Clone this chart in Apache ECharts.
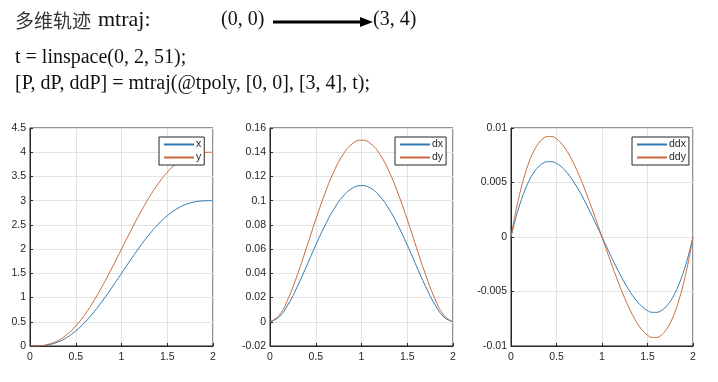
<!DOCTYPE html>
<html><head><meta charset="utf-8">
<script src="https://cdn.jsdelivr.net/npm/echarts@6/dist/echarts.min.js"></script>
<style>html,body{margin:0;padding:0;background:#fff}#c{width:718px;height:382px}</style>
</head><body><div id="c"></div>
<script>
// time samples (s)
var tVals = [0,0.1,0.2,0.3,0.4,0.5,0.6,0.7,0.8,0.9,1.0,1.1,1.2,1.3,1.4,1.5,1.6,1.7,1.8,1.9,2.0];
var tFine = [0,0.05,0.1,0.15,0.2,0.25,0.3,0.35,0.4,0.45,0.5,0.55,0.6,0.65,0.7,0.75,0.8,0.85,0.9,0.95,1.0,
             1.05,1.1,1.15,1.2,1.25,1.3,1.35,1.4,1.45,1.5,1.55,1.6,1.65,1.7,1.75,1.8,1.85,1.9,1.95,2.0];
// position
var xPos = [0,0.0035,0.0257,0.0798,0.1738,0.3105,0.4892,0.7055,0.9523,1.2206,1.5,1.7794,2.0477,2.2945,2.5108,2.6895,2.8262,2.9202,2.9743,2.9965,3];
var yPos = [0,0.0046,0.0342,0.1064,0.2317,0.4141,0.6523,0.9407,1.2698,1.6275,2,2.3725,2.7302,3.0593,3.3477,3.5859,3.7683,3.8936,3.9658,3.9954,4];
// velocity
var dxVel = [0,0.00406,0.01458,0.02926,0.04608,0.06328,0.07938,0.09316,0.10368,0.11026,0.1125,0.11026,0.10368,0.09316,0.07938,0.06328,0.04608,0.02926,0.01458,0.00406,0];
var dyVel = [0,0.00542,0.01944,0.03902,0.06144,0.08438,0.10584,0.12422,0.13824,0.14702,0.15,0.14702,0.13824,0.12422,0.10584,0.08438,0.06144,0.03902,0.01944,0.00542,0];
// acceleration (on tFine)
var ddxAcc = [0,0.001667,0.003078,0.004246,0.005184,0.005906,0.006426,0.006757,0.006912,0.006905,0.00675,0.00646,0.006048,0.005528,0.004914,0.004219,0.003456,0.002639,0.001782,0.000898,0,
  -0.000898,-0.001782,-0.002639,-0.003456,-0.004219,-0.004914,-0.005528,-0.006048,-0.00646,-0.00675,-0.006905,-0.006912,-0.006757,-0.006426,-0.005906,-0.005184,-0.004246,-0.003078,-0.001667,0];
var ddyAcc = [0,0.002223,0.004104,0.005661,0.006912,0.007875,0.008568,0.009009,0.009216,0.009207,0.009,0.008613,0.008064,0.007371,0.006552,0.005625,0.004608,0.003519,0.002376,0.001197,0,
  -0.001197,-0.002376,-0.003519,-0.004608,-0.005625,-0.006552,-0.007371,-0.008064,-0.008613,-0.009,-0.009207,-0.009216,-0.009009,-0.008568,-0.007875,-0.006912,-0.005661,-0.004104,-0.002223,0];
// axis ranges / ticks
var xTicks = {min:0, max:2, interval:0.5};
var yRanges = [{min:0,max:4.5,interval:0.5},{min:-0.02,max:0.16,interval:0.02},{min:-0.01,max:0.01,interval:0.005}];

var BLUE = '#2f79b0', ORANGE = '#c9683a';
function pairs(ts, vals){ return ts.map(function(t,i){return [t, vals[i]];}); }
function fmt(v){ return String(+v.toFixed(4)); }

var grids = [
  {left:30, right:505, top:128, bottom:36},
  {left:270, right:265, top:128, bottom:36},
  {left:511, right:25, top:128, bottom:36}
];
grids.forEach(function(g){ g.show = true; g.borderColor = '#262626'; g.borderWidth = 1; g.backgroundColor = '#fff'; });

var labelStyle = {color:'#262626', fontSize:10.5, fontFamily:'Liberation Sans, Arial, sans-serif'};
var xAxes = [], yAxes = [];
for (var i=0;i<3;i++){
  xAxes.push({type:'value', gridIndex:i, min:xTicks.min, max:xTicks.max, interval:xTicks.interval,
    axisLine:{show:true, onZero:false, lineStyle:{color:'#262626'}},
    axisTick:{show:true, inside:true, length:3, lineStyle:{color:'#262626'}},
    axisLabel:Object.assign({margin:6, formatter:fmt}, labelStyle),
    splitLine:{show:true, lineStyle:{color:'#e3e3e3', width:1}}});
  yAxes.push({type:'value', gridIndex:i, min:yRanges[i].min, max:yRanges[i].max, interval:yRanges[i].interval,
    axisLine:{show:true, onZero:false, lineStyle:{color:'#262626'}},
    axisTick:{show:true, inside:true, length:3, lineStyle:{color:'#262626'}},
    axisLabel:Object.assign({margin:4, formatter:fmt}, labelStyle),
    splitLine:{show:true, lineStyle:{color:'#e3e3e3', width:1}}});
}

function ser(name, ts, vals, gi, color){
  return {name:name, type:'line', xAxisIndex:gi, yAxisIndex:gi, data:pairs(ts, vals), smooth:true,
    symbol:'none', lineStyle:{width:1, color:color}, itemStyle:{color:color}, silent:true};
}
var series = [
  ser('x', tVals, xPos, 0, BLUE), ser('y', tVals, yPos, 0, ORANGE),
  ser('dx', tVals, dxVel, 1, BLUE), ser('dy', tVals, dyVel, 1, ORANGE),
  ser('ddx', tFine, ddxAcc, 2, BLUE), ser('ddy', tFine, ddyAcc, 2, ORANGE)
];

function leg(names, left){
  return {data:names, left:left, top:137, orient:'vertical', itemWidth:30, itemHeight:2, itemGap:2,
    padding:[2,3,2,5], borderColor:'#262626', borderWidth:1, backgroundColor:'#fff', borderRadius:0,
    icon:'rect', selectedMode:false,
    textStyle:{fontSize:10.5, color:'#262626', padding:[0,0,0,-3], fontFamily:'Liberation Sans, Arial, sans-serif'}};
}

var serif = 'Liberation Serif, Times New Roman, serif';
var chart = echarts.init(document.getElementById('c'));
chart.setOption({
  backgroundColor:'#fff',
  animation:false,
  grid:grids, xAxis:xAxes, yAxis:yAxes, series:series,
  legend:[leg(['x','y'],159), leg(['dx','dy'],395), leg(['ddx','ddy'],632)],
  graphic:[
    {type:'text', left:15, top:11, style:{text:'多维轨迹', font:'19px "Noto Sans CJK SC"', fill:'#333'}},
    {type:'text', left:98, top:9, style:{text:'mtraj:', font:'22px ' + serif, fill:'#111'}},
    {type:'text', left:221, top:10, style:{text:'(0, 0)', font:'20px ' + serif, fill:'#111'}},
    {type:'line', shape:{x1:273, y1:22, x2:362, y2:22}, style:{stroke:'#000', lineWidth:3}},
    {type:'polygon', shape:{points:[[360,17],[373,22],[360,27]]}, style:{fill:'#000'}},
    {type:'text', left:373, top:10, style:{text:'(3, 4)', font:'20px ' + serif, fill:'#111'}},
    {type:'text', left:15, top:48, style:{text:'t = linspace(0, 2, 51);', font:'20px ' + serif, fill:'#111'}},
    {type:'text', left:15, top:74, style:{text:'[P, dP, ddP] = mtraj(@tpoly, [0, 0], [3, 4], t);', font:'20px ' + serif, fill:'#111'}}
  ]
});
</script></body></html>
